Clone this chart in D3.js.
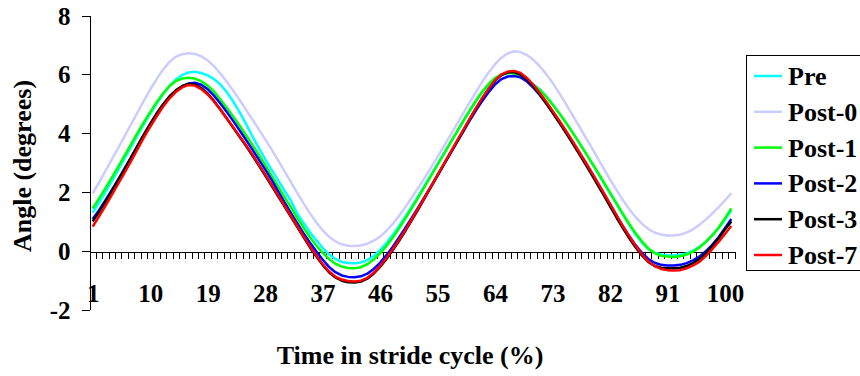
<!DOCTYPE html>
<html><head><meta charset="utf-8">
<script src="https://cdn.jsdelivr.net/npm/d3@7"></script>
<style>
body{margin:0;background:#fff}
svg{display:block;background:#fff}
text{font-family:"Liberation Serif","Times New Roman",serif;font-weight:bold;fill:#000}
</style>
</head><body>
<svg id="chart" width="860" height="376"></svg>
<script>
// ---- data ----
const categories = d3.range(1, 102);
const xTickLabels = [1,10,19,28,37,46,55,64,73,82,91,100];
const yTicks = [-2,0,2,4,6,8];
const seriesNames = ["Pre","Post-0","Post-1","Post-2","Post-3","Post-7"];
const seriesColors = ["#00FFFF","#CCCCFF","#00FF00","#0000FF","#000000","#FF0000"];

const pre = [1.3,1.64,2.0,2.37,2.75,3.14,3.53,3.92,4.3,4.66,
 5.0,5.32,5.6,5.82,5.98,6.07,6.09,6.05,5.97,5.84,
 5.66,5.4,5.08,4.72,4.32,3.9,3.5,3.12,2.76,2.41,
 2.06,1.72,1.28,0.95,0.64,0.36,0.1,-0.12,-0.28,-0.38,
 -0.42,-0.43,-0.4,-0.32,-0.18,0.02,0.26,0.54,0.85,1.18,
 1.52,1.87,2.23,2.59,2.95,3.31,3.67,4.03,4.39,4.74,
 5.08,5.39,5.65,5.86,5.99,6.05,6.05,5.98,5.85,5.67,
 5.5,5.26,4.99,4.7,4.39,4.07,3.73,3.39,3.04,2.68,
 2.32,1.96,1.6,1.24,0.89,0.56,0.28,0.06,-0.07,-0.13,
 -0.16,-0.16,-0.14,-0.09,0.0,0.13,0.3,0.52,0.77,1.05,1.38];

const post0 = [1.95,2.33,2.72,3.11,3.5,3.9,4.3,4.7,5.1,5.48,
 5.84,6.16,6.42,6.6,6.69,6.72,6.7,6.62,6.48,6.28,
 6.03,5.75,5.45,5.13,4.8,4.47,4.13,3.8,3.45,3.09,
 2.72,2.35,1.98,1.62,1.28,0.97,0.7,0.48,0.32,0.22,
 0.17,0.16,0.18,0.24,0.34,0.48,0.68,0.92,1.2,1.5,
 1.82,2.15,2.49,2.84,3.2,3.56,3.93,4.3,4.67,5.04,
 5.4,5.75,6.07,6.35,6.57,6.72,6.79,6.76,6.66,6.5,
 6.28,6.02,5.72,5.38,5.03,4.67,4.3,3.93,3.56,3.18,
 2.8,2.43,2.07,1.73,1.42,1.15,0.92,0.74,0.62,0.55,
 0.52,0.52,0.55,0.62,0.73,0.88,1.06,1.26,1.48,1.71,1.95];

const post1 = [1.44,1.78,2.13,2.49,2.86,3.24,3.62,4.0,4.37,4.72,
 5.05,5.35,5.6,5.77,5.86,5.89,5.86,5.77,5.62,5.42,
 5.15,4.87,4.57,4.26,3.94,3.61,3.27,2.92,2.56,2.2,
 1.84,1.49,1.13,0.79,0.47,0.18,-0.07,-0.28,-0.44,-0.54,
 -0.59,-0.6,-0.56,-0.46,-0.3,-0.09,0.16,0.45,0.77,1.11,
 1.46,1.82,2.19,2.56,2.93,3.3,3.67,4.04,4.41,4.77,
 5.11,5.42,5.68,5.88,6.0,6.05,6.04,5.96,5.82,5.63,
 5.48,5.25,4.98,4.7,4.39,4.07,3.74,3.4,3.05,2.7,
 2.34,1.98,1.62,1.26,0.92,0.6,0.32,0.08,-0.08,-0.17,
 -0.2,-0.21,-0.19,-0.13,-0.03,0.11,0.3,0.52,0.78,1.1,1.44];

const post2 = [1.08,1.38,1.72,2.07,2.43,2.8,3.18,3.56,3.94,4.3,
 4.64,4.95,5.22,5.44,5.6,5.69,5.72,5.65,5.5,5.28,
 5.01,4.72,4.42,4.1,3.78,3.45,3.11,2.77,2.42,2.04,
 1.66,1.3,0.95,0.6,0.28,-0.02,-0.3,-0.55,-0.73,-0.84,
 -0.89,-0.9,-0.87,-0.78,-0.62,-0.41,-0.15,0.14,0.46,0.79,
 1.13,1.48,1.84,2.2,2.57,2.94,3.31,3.68,4.05,4.42,
 4.77,5.1,5.4,5.66,5.84,5.93,5.95,5.9,5.76,5.55,
 5.3,5.02,4.72,4.4,4.08,3.74,3.4,3.05,2.69,2.32,
 1.95,1.58,1.2,0.84,0.5,0.19,-0.07,-0.28,-0.41,-0.48,
 -0.5,-0.5,-0.48,-0.42,-0.33,-0.2,-0.02,0.2,0.46,0.77,1.08];

const post3 = [1.0,1.32,1.67,2.03,2.4,2.78,3.17,3.56,3.95,4.32,
 4.67,4.98,5.25,5.46,5.6,5.68,5.66,5.54,5.35,5.1,
 4.81,4.5,4.19,3.88,3.57,3.25,2.91,2.57,2.22,1.87,
 1.52,1.17,0.82,0.47,0.12,-0.19,-0.48,-0.73,-0.91,-1.02,
 -1.07,-1.08,-1.05,-0.95,-0.78,-0.55,-0.28,0.02,0.35,0.69,
 1.05,1.42,1.8,2.18,2.56,2.94,3.32,3.7,4.08,4.46,
 4.83,5.18,5.5,5.78,5.98,6.07,6.08,6.0,5.83,5.6,
 5.33,5.02,4.7,4.38,4.05,3.71,3.36,3.0,2.64,2.27,
 1.9,1.52,1.14,0.78,0.43,0.12,-0.16,-0.38,-0.52,-0.58,
 -0.6,-0.6,-0.58,-0.52,-0.42,-0.28,-0.08,0.15,0.42,0.72,1.0];

const post7 = [0.82,1.17,1.53,1.9,2.28,2.66,3.05,3.45,3.85,4.22,
 4.57,4.9,5.18,5.4,5.56,5.64,5.62,5.5,5.32,5.08,
 4.8,4.5,4.2,3.9,3.6,3.28,2.94,2.6,2.25,1.9,
 1.55,1.2,0.85,0.5,0.15,-0.15,-0.45,-0.7,-0.88,-0.98,
 -1.03,-1.05,-1.02,-0.92,-0.75,-0.52,-0.25,0.05,0.38,0.72,
 1.08,1.45,1.82,2.2,2.58,2.96,3.34,3.72,4.1,4.48,
 4.85,5.2,5.52,5.8,6.0,6.1,6.12,6.05,5.88,5.65,
 5.38,5.08,4.77,4.45,4.12,3.78,3.43,3.08,2.72,2.35,
 1.98,1.6,1.22,0.85,0.5,0.17,-0.12,-0.36,-0.52,-0.62,
 -0.66,-0.67,-0.66,-0.6,-0.5,-0.38,-0.18,0.05,0.3,0.57,0.84];

const seriesValues = [pre, post0, post1, post2, post3, post7];

// ---- layout ----
const FONT = '"Liberation Serif","Times New Roman",serif';
const svg = d3.select("#chart");
const plotLeft = 89.5, plotRight = 734.5, yTop = 15.7, yBottom = 309.5;

const x = d3.scaleLinear().domain([0.5, categories.length + 0.5]).range([plotLeft, plotRight]);
const y = d3.scaleLinear().domain([-2, 8]).range([yBottom, yTop]);

// Y axis
const yAxis = svg.append("g").attr("transform", `translate(${plotLeft},0)`)
  .call(d3.axisLeft(y).tickValues(yTicks).tickSize(8).tickSizeOuter(0).tickPadding(11).tickFormat(d => String(d)));
yAxis.attr("font-family", FONT);
yAxis.selectAll("path,line").attr("stroke", "#000").attr("shape-rendering", "crispEdges");
yAxis.selectAll("text").attr("font-size", 25).attr("dy", "0.34em")
  .style("font-family", FONT).style("font-weight", "bold");

// X axis at y = 0 (category boundaries as ticks)
const y0 = Math.round(y(0)) + 0.5;
const boundaries = d3.range(0, categories.length + 1).map(k => k + 0.5);
const xAxis = svg.append("g").attr("transform", `translate(0,${y0})`)
  .call(d3.axisBottom(x).tickValues(boundaries).tickSize(7).tickSizeOuter(0).tickFormat(""));
xAxis.selectAll("path,line").attr("stroke", "#000").attr("shape-rendering", "crispEdges");

// X tick labels
const xLab = svg.append("g").attr("transform", `translate(0,${y0})`)
  .call(d3.axisBottom(x).tickValues(xTickLabels).tickSize(0).tickSizeOuter(0).tickPadding(0).tickFormat(d => String(d)));
xLab.attr("font-family", FONT);
xLab.select(".domain").remove();
xLab.selectAll("text").attr("font-size", 25).attr("y", 50).attr("dy", 0)
  .style("font-family", FONT).style("font-weight", "bold");

// Lines
const line = d3.line().x((d, i) => x(categories[i])).y(d => y(d));
seriesValues.forEach((vals, s) => {
  svg.append("path").datum(vals)
    .attr("fill", "none")
    .attr("stroke", seriesColors[s])
    .attr("stroke-width", 2.5)
    .attr("stroke-linejoin", "round")
    .attr("d", line);
});

// Axis titles
svg.append("text").attr("x", 410).attr("y", 364).attr("text-anchor", "middle")
  .attr("font-size", 26).style("font-family", FONT).text("Time in stride cycle (%)");
svg.append("text").attr("transform", "translate(31,166) rotate(-90)").attr("text-anchor", "middle")
  .attr("font-size", 26).style("font-family", FONT).text("Angle (degrees)");

// Legend
const lg = svg.append("g");
lg.append("rect").attr("x", 746.5).attr("y", 55.5).attr("width", 130).attr("height", 215)
  .attr("fill", "#fff").attr("stroke", "#000").attr("stroke-width", 1);
seriesNames.forEach((name, s) => {
  const ry = 76 + s * 35.8;
  lg.append("line").attr("x1", 754).attr("x2", 782).attr("y1", ry).attr("y2", ry)
    .attr("stroke", seriesColors[s]).attr("stroke-width", 2.5);
  lg.append("text").attr("x", 788).attr("y", ry + 9).attr("font-size", 26)
    .style("font-family", FONT).text(name);
});
</script>
</body></html>
